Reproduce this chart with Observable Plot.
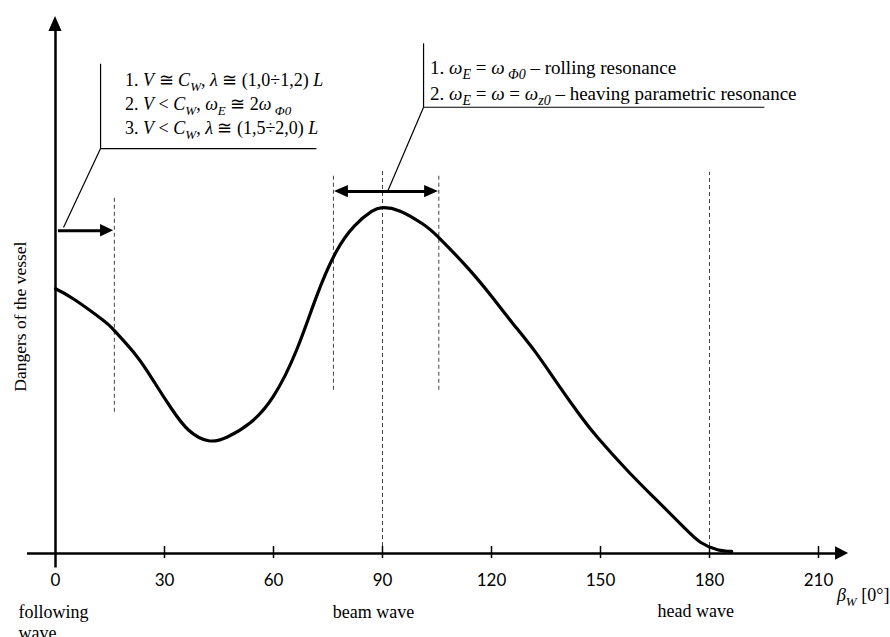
<!DOCTYPE html>
<html><head><meta charset="utf-8">
<script src="https://cdn.jsdelivr.net/npm/d3@7"></script>
<script src="https://cdn.jsdelivr.net/npm/@observablehq/plot@0.6"></script>
<style>body{margin:0;background:#fff}</style>
</head><body><div id="chart"></div>
<script>
// Curve: danger level vs wave heading angle (deg)
const curveDeg = [0, 5.2, 13.2, 16.2, 22.3, 27.3, 31.9, 36.6, 42.1, 47.3, 53.7, 60.0, 66.3, 71.8, 77.1, 82.3, 87.0, 90.0, 94.7, 101.0, 105.7, 113.7, 120.0, 125.8, 132.1, 138.2, 144.5, 149.2, 157.2, 164.9, 172.9, 177.5, 182.2, 186.1];
const curveDanger = [49.3, 47.3, 43.4, 41.5, 36.8, 31.8, 27.0, 23.0, 21.0, 21.7, 24.4, 29.3, 37.8, 47.8, 56.0, 61.0, 63.7, 64.4, 63.8, 61.4, 58.7, 53.0, 47.9, 42.9, 37.5, 31.6, 25.6, 21.6, 15.6, 10.3, 4.9, 2.1, 0.7, 0.4];

const tickValues = [0, 30, 60, 90, 120, 150, 180, 210];
const tickLabels = ["0", "30", "60", "90", "120", "150", "180", "210"];

// dashed reference lines (deg, top, bottom in danger units)
const dashedDeg = [16.2, 76.5, 90, 105.5, 180];
const dashedTop = [66.3, 70.8, 71.3, 70.8, 71.0];
const dashedBottom = [26.3, 30.4, 0, 30.4, 0];

// heading labels
const headingLeftText = ["following", "wave"];
const headingLeftDeg = [-10.2, -10.2];
const headingLeftLevel = [-11.0, -14.9];
const headingMidText = ["beam wave", "head wave"];
const headingMidDeg = [87.5, 176.2];
const headingMidLevel = [-11.0, -10.8];

// annotation anchors (deg, danger)
const leaderFrom = [[12.4, 91.2], [12.4, 75.4], [12.4, 75.4], [101.3, 95.0], [101.3, 83.1], [101.3, 83.1]];
const leaderTo   = [[12.4, 75.4], [71.8, 75.4], [2.2, 60.7], [101.3, 83.1], [195.1, 83.1], [91.4, 67.4]];

const box1Lines = [
  [["1. "], ["V", "i"], [" ≅ "], ["C", "i"], ["W", "subi"], [", "], ["λ", "i"], [" ≅ (1,0÷1,2) "], ["L", "i"]],
  [["2. "], ["V", "i"], [" < "], ["C", "i"], ["W", "subi"], [", "], ["ω", "i"], ["E", "subi"], [" ≅ 2"], ["ω", "i"], [" Φ0", "subi"]],
  [["3. "], ["V", "i"], [" < "], ["C", "i"], ["W", "subi"], [", "], ["λ", "i"], [" ≅ (1,5÷2,0) "], ["L", "i"]]
];
const box1Anchor = [19.3, [87.0, 82.5, 78.0]];
const box2Lines = [
  [["1. "], ["ω", "i"], ["E", "subi"], [" = "], ["ω", "i"], [" Φ0", "subi"], [" – rolling resonance"]],
  [["2. "], ["ω", "i"], ["E", "subi"], [" = "], ["ω", "i"], [" = "], ["ω", "i"], ["z0", "subi"], [" – heaving parametric resonance"]]
];
const box2Anchor = [103.2, [89.2, 84.3]];
const xTitle = [["β", "i"], ["W", "subi"], [" [0°]"]];
const xTitleAnchor = [215.2, -8.9];
const yTitle = "Dangers of the vessel";

// derived tables
const curve = curveDeg.map((x, i) => ({x, y: curveDanger[i]}));
const dashed = dashedDeg.map((x, i) => ({x, y1: dashedBottom[i], y2: dashedTop[i]}));
const headLeft = headingLeftText.map((t, i) => ({t, x: headingLeftDeg[i], y: headingLeftLevel[i]}));
const headMid = headingMidText.map((t, i) => ({t, x: headingMidDeg[i], y: headingMidLevel[i]}));
const links = leaderFrom.map((f, i) => ({x1: f[0], y1: f[1], x2: leaderTo[i][0], y2: leaderTo[i][1]}));
const ticks = tickValues.map((v, i) => ({v, t: tickLabels[i]}));

const xArrow = [{x: 214.7, y1: -1.25, y2: 1.25}, {x: 218.3, y1: 0, y2: 0}];
const yArrow = [{y: 97.2, x1: -1.8, x2: 1.8}, {y: 100, x1: 0, x2: 0}];
const arrowL = [{x: 12.4, y1: 58.95, y2: 61.25}, {x: 16.0, y1: 60.1, y2: 60.1}];
const dblL = [{x: 76.8, y1: 67.4, y2: 67.4}, {x: 80.6, y1: 66.25, y2: 68.55}];
const dblR = [{x: 101.6, y1: 66.25, y2: 68.55}, {x: 105.4, y1: 67.4, y2: 67.4}];

const serif = "Liberation Serif, Times New Roman, serif";

const plot = Plot.plot({
  width: 890, height: 637,
  marginLeft: 55, marginRight: 72, marginTop: 16, marginBottom: 84,
  x: {domain: [0, 210], axis: null},
  y: {domain: [0, 100], axis: null},
  style: {background: "white", overflow: "visible"},
  marks: [
    Plot.ruleX(dashed, {x: "x", y1: "y1", y2: "y2", stroke: "#444", strokeWidth: 1, strokeDasharray: "4,3"}),
    Plot.ruleY([0], {x1: -7.7, x2: 215, stroke: "black", strokeWidth: 2.5}),
    Plot.areaY(xArrow, {x: "x", y1: "y1", y2: "y2", fill: "black"}),
    Plot.ruleX([0], {y1: -2.7, y2: 97.5, stroke: "black", strokeWidth: 2.5}),
    Plot.areaX(yArrow, {y: "y", x1: "x1", x2: "x2", fill: "black"}),
    Plot.ruleX(tickValues.slice(1), {y1: -0.95, y2: 1.3, stroke: "black", strokeWidth: 1.5}),
    Plot.text(ticks, {x: "v", y: -5.0, text: "t", fontFamily: "Lato, sans-serif", fontSize: 17, fill: "black"}),
    Plot.text(headLeft, {x: "x", y: "y", text: "t", textAnchor: "start", fontFamily: serif, fontSize: 18, fill: "black"}),
    Plot.text(headMid, {x: "x", y: "y", text: "t", textAnchor: "middle", fontFamily: serif, fontSize: 18, fill: "black"}),
    Plot.text([yTitle], {x: -9.6, y: 44.1, text: d => d, rotate: -90, fontFamily: serif, fontSize: 17.5, fill: "black"}),
    Plot.line(curve, {x: "x", y: "y", curve: "natural", stroke: "black", strokeWidth: 3.2}),
    Plot.link(links, {x1: "x1", y1: "y1", x2: "x2", y2: "y2", stroke: "black", strokeWidth: 1.2}),
    Plot.ruleY([60.1], {x1: 0.8, x2: 13, stroke: "black", strokeWidth: 3}),
    Plot.areaY(arrowL, {x: "x", y1: "y1", y2: "y2", fill: "black"}),
    Plot.ruleY([67.4], {x1: 79.5, x2: 102.6, stroke: "black", strokeWidth: 3}),
    Plot.areaY(dblL, {x: "x", y1: "y1", y2: "y2", fill: "black"}),
    Plot.areaY(dblR, {x: "x", y1: "y1", y2: "y2", fill: "black"})
  ]
});
document.getElementById("chart").appendChild(plot);

// rich (sub/italic) annotation text positioned through Plot's scales
const svg = d3.select(plot);
const sx = plot.scale("x"), sy = plot.scale("y");
function rich(x, y, segs, size) {
  const t = svg.append("text")
    .attr("x", sx.apply(x)).attr("y", sy.apply(y))
    .attr("text-anchor", "start")
    .attr("font-family", serif).attr("font-size", size).attr("fill", "black")
    .style("white-space", "pre");
  let shift = 0;
  const sub = Math.round(size * 0.72);
  for (const [txt, kind = ""] of segs) {
    const ts = t.append("tspan").text(txt);
    const want = kind.includes("sub") ? Math.round(size * 0.26) : 0;
    if (want !== shift) { ts.attr("dy", want - shift); shift = want; }
    if (kind.includes("i")) ts.attr("font-style", "italic");
    if (kind.includes("sub")) ts.attr("font-size", sub);
  }
}
box1Lines.forEach((l, i) => rich(box1Anchor[0], box1Anchor[1][i], l, 18));
box2Lines.forEach((l, i) => rich(box2Anchor[0], box2Anchor[1][i], l, 19));
rich(xTitleAnchor[0], xTitleAnchor[1], xTitle, 18);
</script>
</body></html>
